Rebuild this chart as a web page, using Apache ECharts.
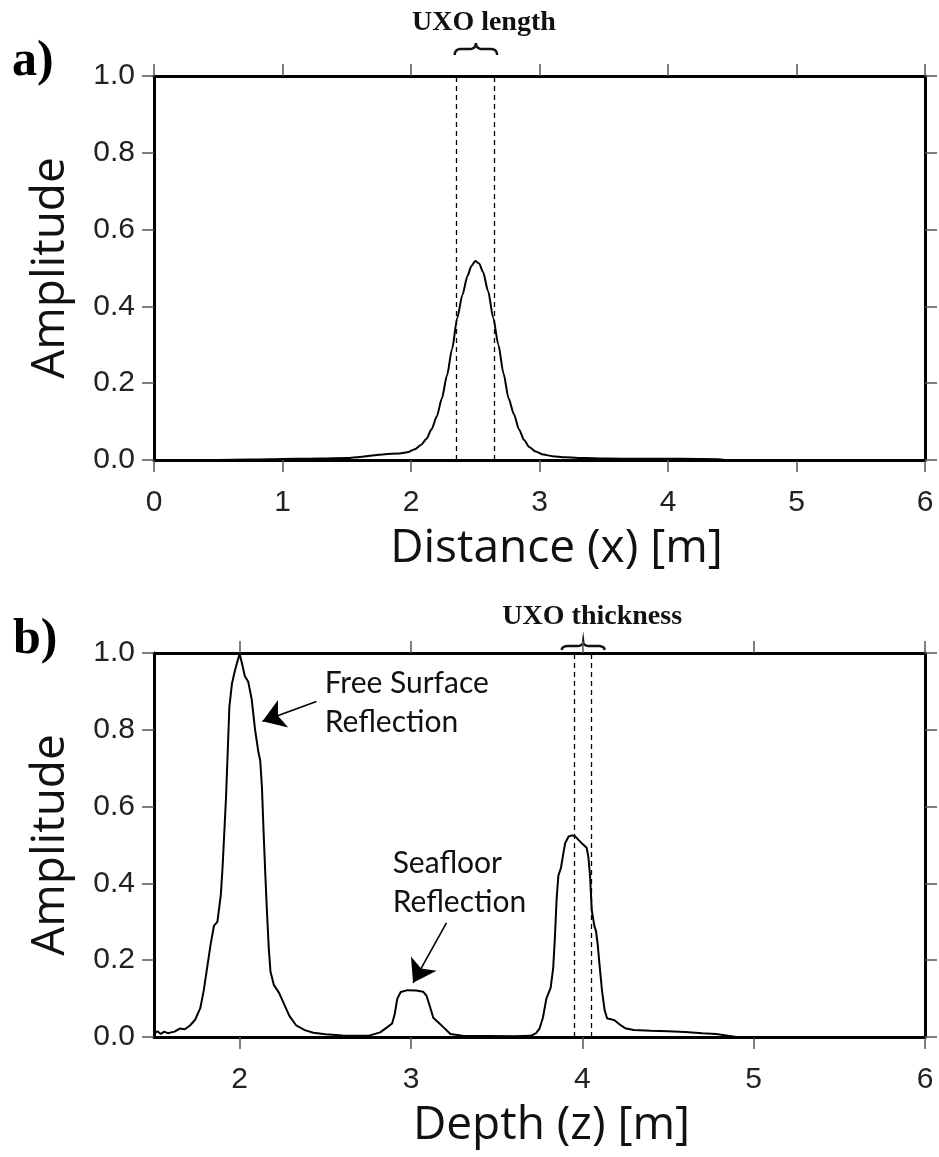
<!DOCTYPE html>
<html>
<head>
<meta charset="utf-8">
<script src="https://cdn.jsdelivr.net/npm/echarts@6/dist/echarts.min.js"></script>
<style>
html,body{margin:0;padding:0;background:#fff;}
#chart{width:939px;height:1157px;}
</style>
</head>
<body>
<div id="chart"></div>
<script>
// ---------- Data ----------
// Panel a: amplitude vs horizontal distance
const distA = [0, 0.5, 0.75, 0.9, 1.1, 1.3, 1.5, 1.6, 1.7, 1.8, 1.9, 1.97, 2.03, 2.08, 2.12, 2.16, 2.2, 2.24, 2.28, 2.32, 2.36, 2.4, 2.44, 2.47, 2.5, 2.53, 2.56, 2.6, 2.64, 2.68, 2.72, 2.76, 2.8, 2.84, 2.88, 2.92, 2.97, 3.03, 3.1, 3.2, 3.35, 3.5, 3.8, 4.1, 4.4, 4.45, 6];
const ampA  = [0, 0, 0.001, 0.002, 0.003, 0.004, 0.005, 0.008, 0.012, 0.015, 0.017, 0.02, 0.028, 0.04, 0.055, 0.08, 0.113, 0.16, 0.22, 0.29, 0.37, 0.43, 0.48, 0.505, 0.518, 0.512, 0.49, 0.44, 0.37, 0.3, 0.225, 0.16, 0.12, 0.08, 0.052, 0.034, 0.022, 0.014, 0.01, 0.007, 0.005, 0.004, 0.003, 0.003, 0.002, 0, 0];

// Panel b: amplitude vs depth
const depthB = [1.50, 1.52, 1.54, 1.56, 1.58, 1.62, 1.65, 1.68, 1.71, 1.74, 1.77, 1.79, 1.81, 1.83, 1.85, 1.87, 1.89, 1.90, 1.91, 1.92, 1.93, 1.94, 1.955, 1.97, 1.985, 2.00, 2.015, 2.03, 2.05, 2.07, 2.09, 2.11, 2.12, 2.13, 2.14, 2.15, 2.16, 2.17, 2.18, 2.20, 2.23, 2.26, 2.29, 2.33, 2.38, 2.43, 2.50, 2.60, 2.75, 2.82, 2.86, 2.89, 2.905, 2.92, 2.94, 2.98, 3.03, 3.07, 3.09, 3.11, 3.13, 3.16, 3.19, 3.23, 3.30, 3.60, 3.70, 3.73, 3.75, 3.77, 3.79, 3.815, 3.83, 3.84, 3.85, 3.86, 3.875, 3.89, 3.90, 3.92, 3.94, 3.96, 3.98, 4.00, 4.025, 4.035, 4.045, 4.055, 4.07, 4.08, 4.09, 4.10, 4.115, 4.13, 4.145, 4.17, 4.19, 4.22, 4.25, 4.30, 4.40, 4.50, 4.60, 4.70, 4.78, 4.85, 4.90, 6.00];
const ampB   = [0.008, 0.015, 0.008, 0.014, 0.010, 0.014, 0.022, 0.020, 0.030, 0.045, 0.075, 0.12, 0.18, 0.24, 0.29, 0.30, 0.37, 0.44, 0.53, 0.62, 0.74, 0.86, 0.92, 0.95, 0.975, 0.998, 0.97, 0.94, 0.925, 0.88, 0.80, 0.74, 0.72, 0.65, 0.53, 0.42, 0.32, 0.23, 0.17, 0.135, 0.115, 0.085, 0.055, 0.03, 0.018, 0.011, 0.007, 0.004, 0.003, 0.012, 0.025, 0.035, 0.06, 0.10, 0.117, 0.122, 0.121, 0.118, 0.108, 0.08, 0.05, 0.038, 0.025, 0.008, 0.003, 0.002, 0.003, 0.01, 0.022, 0.05, 0.10, 0.128, 0.18, 0.26, 0.36, 0.42, 0.44, 0.48, 0.505, 0.522, 0.525, 0.522, 0.512, 0.503, 0.493, 0.47, 0.42, 0.33, 0.29, 0.275, 0.24, 0.19, 0.12, 0.07, 0.048, 0.046, 0.043, 0.032, 0.023, 0.018, 0.016, 0.015, 0.013, 0.010, 0.008, 0.003, 0.0, 0.0];

// Tick labels
const xTicksA = [0, 1, 2, 3, 4, 5, 6];
const xTicksB = [2, 3, 4, 5, 6];
const yTicks  = [0, 0.2, 0.4, 0.6, 0.8, 1.0];

// Markers (UXO extents) and annotations
const uxoLength = [2.35, 2.65];
const uxoThickness = [3.95, 4.05];
const freeSurfaceArrow = [[2.448, 0.874], [2.133, 0.822]];
const seafloorArrow = [[3.207, 0.297], [3.012, 0.141]];

// ---------- Chart ----------
const zip = (xs, ys) => xs.map((x, i) => [x, ys[i]]);
const chart = echarts.init(document.getElementById('chart'), null, {renderer: 'canvas'});

const TICK_FONT = "'Liberation Sans', Arial, sans-serif";
const TITLE_FONT = "'Open Sans', 'Noto Sans', sans-serif";
const SERIF = "'Liberation Serif', 'Times New Roman', serif";

const frameLine = {show: true, onZero: false, lineStyle: {color: '#000', width: 3}};
const tickStyle = {show: true, inside: false, length: 12, lineStyle: {color: '#555', width: 1.5}};

function xAxisPair(grid, min, max, ticks, name, shift) {
  return [
    {
      gridIndex: grid, type: 'value', position: 'bottom', min: min, max: max,
      axisLine: frameLine,
      axisTick: Object.assign({}, tickStyle, {customValues: ticks}),
      axisLabel: {customValues: ticks, margin: 28, fontSize: 30, color: '#222', fontFamily: TICK_FONT},
      splitLine: {show: false},
      name: name, nameLocation: 'middle', nameGap: 66,
      nameTextStyle: {fontSize: 46, color: '#111', fontFamily: TITLE_FONT, padding: [0, 0, 0, shift]}
    },
    {
      gridIndex: grid, type: 'value', position: 'top', min: min, max: max,
      axisLine: frameLine,
      axisTick: Object.assign({}, tickStyle, {customValues: ticks}),
      axisLabel: {show: false, customValues: ticks},
      splitLine: {show: false}
    }
  ];
}
function yAxisPair(grid) {
  return [
    {
      gridIndex: grid, type: 'value', position: 'left', min: 0, max: 1,
      axisLine: frameLine,
      axisTick: Object.assign({}, tickStyle, {customValues: yTicks}),
      axisLabel: {customValues: yTicks, margin: 19, fontSize: 30, color: '#222', fontFamily: TICK_FONT,
                  formatter: v => Number(v).toFixed(1)},
      splitLine: {show: false},
      name: 'Amplitude', nameLocation: 'middle', nameGap: 80,
      nameTextStyle: {fontSize: 46, color: '#111', fontFamily: TITLE_FONT}
    },
    {
      gridIndex: grid, type: 'value', position: 'right', min: 0, max: 1,
      axisLine: frameLine,
      axisTick: Object.assign({}, tickStyle, {customValues: yTicks}),
      axisLabel: {show: false, customValues: yTicks},
      splitLine: {show: false}
    }
  ];
}

const dashed = {color: '#000', width: 1.3, type: [5, 4]};
const arrowStyle = {color: '#000', width: 1.6, type: 'solid'};

const option = {
  animation: false,
  backgroundColor: '#fff',
  grid: [
    {left: 154, top: 76, width: 771, height: 384},
    {left: 154, top: 653, width: 771, height: 384}
  ],
  xAxis: [].concat(xAxisPair(0, 0, 6, xTicksA, 'Distance (x) [m]', 34),
                   xAxisPair(1, 1.5, 6, xTicksB, 'Depth (z) [m]', 24)),
  yAxis: [].concat(yAxisPair(0), yAxisPair(1)),
  series: [
    {
      type: 'line', xAxisIndex: 0, yAxisIndex: 0,
      data: zip(distA, ampA), showSymbol: false, smooth: 0.25, smoothMonotone: 'x',
      lineStyle: {color: '#000', width: 2}, silent: true,
      markLine: {
        silent: true, symbol: 'none', label: {show: false}, lineStyle: dashed,
        data: uxoLength.map(v => ({xAxis: v}))
      }
    },
    {
      type: 'line', xAxisIndex: 2, yAxisIndex: 2,
      data: zip(depthB, ampB), showSymbol: false,
      lineStyle: {color: '#000', width: 2}, silent: true,
      markLine: {
        silent: true, symbol: 'none', label: {show: false}, lineStyle: dashed,
        data: uxoThickness.map(v => ({xAxis: v}))
      }
    },
    {
      type: 'line', xAxisIndex: 2, yAxisIndex: 2, data: [], silent: true,
      markLine: {
        silent: true, symbol: ['none', 'arrow'], symbolSize: 22, label: {show: false},
        lineStyle: arrowStyle, emphasis: {disabled: true},
        data: [freeSurfaceArrow, seafloorArrow].map(a => [
          {coord: a[0]}, {coord: a[1]}
        ])
      }
    }
  ]
};
chart.setOption(option);

// ---------- Annotations placed from data coordinates ----------
function px(grid, pt) { return chart.convertToPixel({gridIndex: grid}, pt); }
function quad(p0, p1, p2, n, out) {
  for (let i = 1; i <= n; i++) {
    const t = i / n, u = 1 - t;
    out.push([u * u * p0[0] + 2 * u * t * p1[0] + t * t * p2[0],
              u * u * p0[1] + 2 * u * t * p1[1] + t * t * p2[1]]);
  }
}
function bracePoints(x1, x2, yb, yt) {
  const xc = (x1 + x2) / 2, w = x2 - x1, ym = yb - 0.5 * (yb - yt), q = w * 0.16;
  const pts = [[x1, yb]];
  quad([x1, yb], [x1, ym], [x1 + q, ym], 8, pts);
  pts.push([xc - q, ym]);
  quad([xc - q, ym], [xc, ym], [xc, yt], 8, pts);
  quad([xc, yt], [xc, ym], [xc + q, ym], 8, pts);
  pts.push([x2 - q, ym]);
  quad([x2 - q, ym], [x2, ym], [x2, yb], 8, pts);
  return pts;
}

const topA = px(0, [0, 1])[1];
const topB = px(1, [1.5, 1])[1];
const bA1 = px(0, [2.34, 1])[0], bA2 = px(0, [2.67, 1])[0];
const bB1 = px(1, [3.88, 1])[0], bB2 = px(1, [4.13, 1])[0];
const fs = px(1, [2.496, 0.87]);
const sf = px(1, [2.893, 0.401]);

chart.setOption({
  graphic: [
    {type: 'text', x: 12, y: topA - 14, style: {text: 'a)', font: `bold 50px ${SERIF}`, fill: '#000', textVerticalAlign: 'middle'}},
    {type: 'text', x: 13, y: topB - 13, style: {text: 'b)', font: `bold 50px ${SERIF}`, fill: '#000', textVerticalAlign: 'middle'}},
    {type: 'text', x: (bA1 + bA2) / 2 + 8, y: topA - 53, style: {text: 'UXO length', font: `bold 28px ${SERIF}`, fill: '#111', textAlign: 'center', textVerticalAlign: 'middle'}},
    {type: 'polyline', shape: {points: bracePoints(bA1, bA2, topA - 21, topA - 33)}, style: {fill: null, stroke: '#111', lineWidth: 2.5}},
    {type: 'text', x: (bB1 + bB2) / 2 + 9, y: topB - 36, style: {text: 'UXO thickness', font: `bold 28px ${SERIF}`, fill: '#111', textAlign: 'center', textVerticalAlign: 'middle'}},
    {type: 'polyline', shape: {points: bracePoints(bB1, bB2, topB - 3, topB - 11)}, style: {fill: null, stroke: '#111', lineWidth: 2.5}},
    {type: 'text', x: fs[0], y: fs[1], style: {text: 'Free Surface\nReflection', font: `30px Lato, ${TITLE_FONT}`, lineHeight: 39, fill: '#111', textVerticalAlign: 'middle'}},
    {type: 'text', x: sf[0], y: sf[1], style: {text: 'Seafloor\nReflection', font: `30px Lato, ${TITLE_FONT}`, lineHeight: 39, fill: '#111', textVerticalAlign: 'middle'}}
  ]
});
</script>
</body>
</html>
